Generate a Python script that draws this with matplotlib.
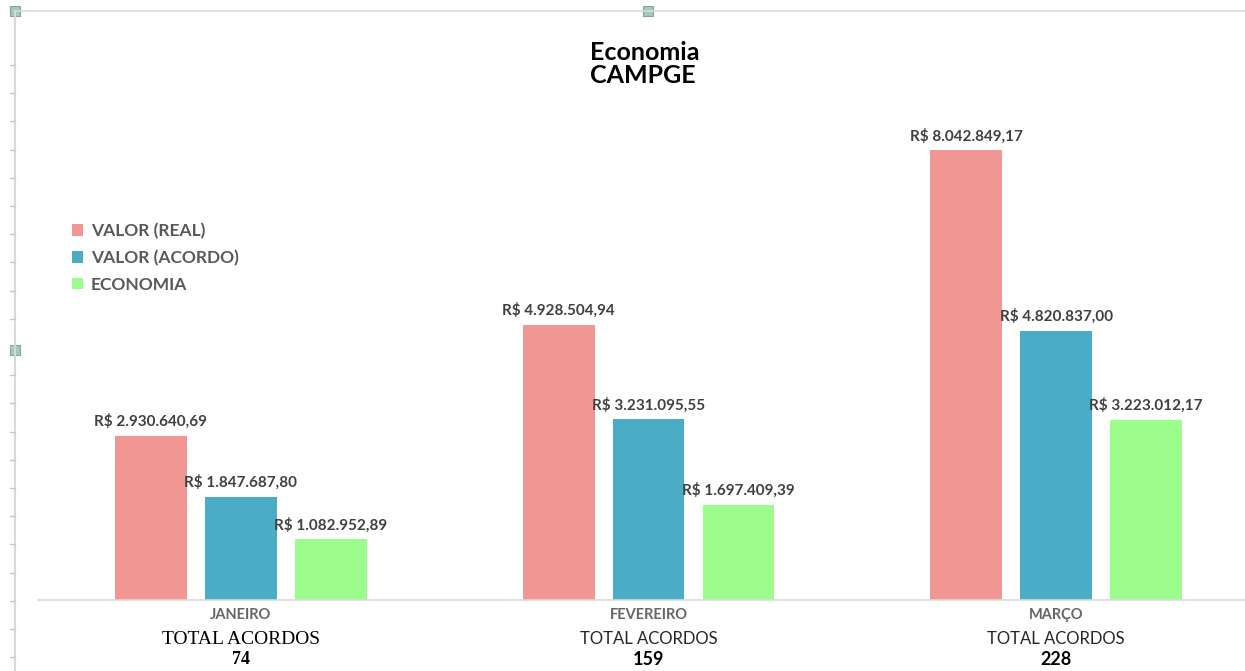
import numpy as np
import matplotlib.pyplot as plt
from matplotlib.patches import Rectangle

meses = ["JANEIRO", "FEVEREIRO", "MARÇO"]
total_acordos = [74, 159, 228]
valor_real = [2930640.69, 4928504.94, 8042849.17]
valor_acordo = [1847687.80, 3231095.55, 4820837.00]
economia = [1082952.89, 1697409.39, 3223012.17]

series = [("VALOR (REAL)", valor_real, "#f29694"),
          ("VALOR (ACORDO)", valor_acordo, "#4bacc6"),
          ("ECONOMIA", economia, "#9dfd8c")]

def brl(v):
    s = "{:,.2f}".format(v)
    s = s.replace(",", "X").replace(".", ",").replace("X", ".")
    return "R$ " + s

W, H = 1245, 671
fig = plt.figure(figsize=(W / 100, H / 100), dpi=100)
sans = ["Lato", "DejaVu Sans"]

# excel-like frame, ruler ticks and selection handles (pixel coords)
deco = fig.add_axes([0, 0, 1, 1])
deco.set_xlim(0, W)
deco.set_ylim(H, 0)
deco.axis("off")
deco.plot([15, W], [11, 11], color="#d9d9d9", lw=1.2)
deco.plot([15, 15], [11, H], color="#d9d9d9", lw=1.5)
for yt in np.arange(65, H, 28.2):
    deco.plot([10, 15], [yt, yt], color="#c8c8c8", lw=1)
for hx, hy in [(15, 11), (648, 11), (15, 350)]:
    deco.add_patch(Rectangle((hx - 5, hy - 5), 10, 10, facecolor="#a3c9b8",
                             edgecolor="#7fa897", lw=0.8))

# main chart
left, right, bottom, top_px = 38, W, 600, 97
ax = fig.add_axes([left / W, 1 - bottom / H, (right - left) / W, (bottom - top_px) / H])
ax.set_ylim(0, 9.0e6)
ax.set_xlim(-0.4975, 2.463)
x = np.arange(len(meses))
bw = 0.176
step = 0.2205
for i, (nome, vals, cor) in enumerate(series):
    pos = x + (i - 1) * step
    ax.bar(pos, vals, width=bw, color=cor, label=nome)
    for p, v in zip(pos, vals):
        ax.annotate(brl(v), (p, v), xytext=(0, 5), textcoords="offset points",
                    ha="center", va="bottom", fontsize=11, fontweight="bold",
                    color="#404040", family=sans)

for s in ["top", "right", "left"]:
    ax.spines[s].set_visible(False)
ax.spines["bottom"].set_color("#d9d9d9")
ax.spines["bottom"].set_linewidth(1.2)
ax.set_yticks([])
ax.set_xticks([])

for i, m in enumerate(meses):
    ax.annotate(m, (x[i], 0), xytext=(0, -6), textcoords="offset points",
                ha="center", va="top", fontsize=10.5, fontweight="bold",
                color="#666666", family=sans)
    if i == 0:
        fam = ["Liberation Serif", "DejaVu Serif"]
        col = "#000000"
        fs = 14
    else:
        fam = sans
        col = "#262626"
        fs = 12
    ax.annotate("TOTAL ACORDOS", (x[i], 0), xytext=(0, -22), textcoords="offset points",
                ha="center", va="top", fontsize=fs, color=col, family=fam)
    ax.annotate(str(total_acordos[i]), (x[i], 0), xytext=(0, -37), textcoords="offset points",
                ha="center", va="top", fontsize=13, fontweight="bold", color="#000000",
                family=fam if i == 0 else sans)

fig.text(590 / W, 1 - 64 / H, "Economia\nCAMPGE", ha="left", va="center",
         fontsize=18, fontweight="bold", color="#000000", family=sans, linespacing=1.0)

leg = ax.legend(loc="upper left", bbox_to_anchor=((56 - left) / (right - left), (bottom - 207) / (bottom - top_px)),
                frameon=False, handlelength=0.65, handleheight=0.65,
                handletextpad=0.45, labelspacing=0.62,
                prop={"family": sans, "weight": "bold", "size": 12.5})
for t in leg.get_texts():
    t.set_color("#595959")

fig.savefig("out.png", dpi=100)
